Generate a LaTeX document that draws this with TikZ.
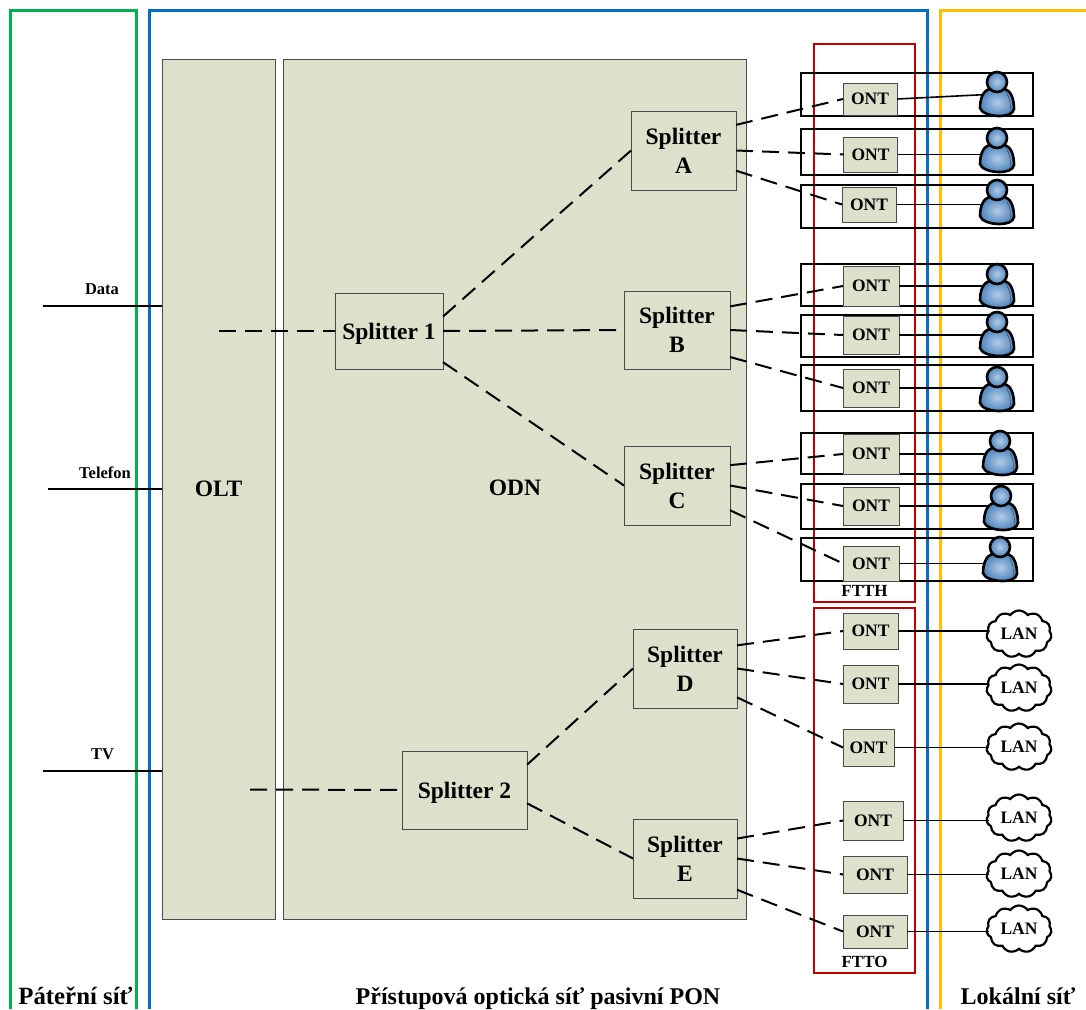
\documentclass[tikz,border=0pt]{standalone}
\usepackage{xcolor}
\usepackage{fontspec}
\setmainfont{Liberation Serif}
\usepackage{tikz}
\usetikzlibrary{shapes.symbols}
\definecolor{boxfill}{HTML}{DDE1CB}
\definecolor{boxline}{HTML}{4A4A4A}
\definecolor{framegreen}{HTML}{00B050}
\definecolor{frameblue}{HTML}{0070C0}
\definecolor{frameyellow}{HTML}{FFC000}
\definecolor{framered}{HTML}{C00000}
\definecolor{userin}{HTML}{B4CBE6}
\definecolor{userout}{HTML}{4F86BE}
\tikzset{
    panel/.style={draw=boxline, line width=0.8pt, fill=boxfill, outer sep=0pt, inner sep=0pt},
    splitter/.style={panel, align=center, font=\fontsize{23.5}{29}\selectfont\bfseries},
    ont/.style={panel, font=\fontsize{17.5}{20}\selectfont\bfseries},
    rowbox/.style={draw=black, line width=2pt, outer sep=0pt, inner sep=0pt},
    redbox/.style={draw=framered, line width=2pt, outer sep=0pt, inner sep=0pt},
    lan/.style={cloud, cloud puffs=11, cloud puff arc=110, aspect=1.4, draw=black, line width=2.2pt, fill=white, inner sep=0pt, outer sep=0pt, font=\fontsize{17.5}{20}\selectfont\bfseries},
    small/.style={font=\fontsize{16.5}{18}\selectfont\bfseries, inner sep=0pt},
    caption/.style={font=\fontsize{24}{28}\selectfont\bfseries, inner sep=0pt, anchor=base},
    frameline/.style={line width=3pt},
    fibre/.style={line width=2pt, dash pattern=on 17pt off 9pt},
    cable/.style={line width=1.6pt},
    pics/user/.style={code={
        \draw[line width=2.6pt, inner color=userin, outer color=userout] (-8,-5) .. controls (-14,-3) and (-17,5) .. (-17,14) .. controls (-16,19) and (-6,22) .. (2,22) .. controls (10,22) and (16,20) .. (17,15) .. controls (17,5) and (14,-3) .. (8,-5) -- cycle;
        \draw[line width=0.5pt, draw=boxline] (10,0) .. controls (13,5) and (14,10) .. (13,18);
        \draw[line width=2.6pt, inner color=userin, outer color=userout] (0,-12) circle (10);
    }},
}
\begin{document}
\begin{tikzpicture}[x=1pt, y=-1pt]
        \useasboundingbox (0,0) rectangle (1086,1009);
        \draw[framegreen, frameline] (10,1009) -- (10,10) -- (136,10) -- (136,1009);
        \draw[frameblue, frameline] (149,1009) -- (149,10) -- (927,10) -- (927,1009);
        \draw[frameyellow, frameline] (940,1009) -- (940,10) -- (1086,10);

        \node[redbox, minimum width=101, minimum height=558] (ftth) at (864.5,323) {};
        \node[redbox, minimum width=101, minimum height=365] (ftto) at (864.5,790.5) {};
        \node[small, font=\fontsize{17}{20}\selectfont\bfseries] (ftthlabel) at (864.5,591) {FTTH};
        \node[small, font=\fontsize{17}{20}\selectfont\bfseries] (fttolabel) at (864.5,962) {FTTO};

        \node[panel, minimum width=113, minimum height=860, font=\fontsize{23.5}{28}\selectfont\bfseries] (olt) at (218.5,489) {OLT};
        \node[panel, minimum width=463, minimum height=860, font=\fontsize{23.5}{28}\selectfont\bfseries] (odn) at (514.5,489) {};
        \node[font=\fontsize{23.5}{28}\selectfont\bfseries, inner sep=0pt] (odnlabel) at (515,488) {ODN};

        \node[splitter, text depth=0pt, minimum width=108, minimum height=76] (s1) at (389,331) {Splitter 1};
        \node[splitter, text depth=0pt, minimum width=125, minimum height=78] (s2) at (464.5,790) {Splitter 2};
        \node[splitter, minimum width=105, minimum height=79] (sa) at (683.5,150.5) {Splitter\\A};
        \node[splitter, minimum width=106, minimum height=78] (sb) at (677,330) {Splitter\\B};
        \node[splitter, minimum width=106, minimum height=79] (sc) at (677,485.5) {Splitter\\C};
        \node[splitter, minimum width=104, minimum height=79] (sd) at (685,668.5) {Splitter\\D};
        \node[splitter, minimum width=104, minimum height=79] (se) at (685,858.5) {Splitter\\E};

        \node[rowbox, minimum width=232, minimum height=43] (row1) at (917,94.5) {};
        \node[rowbox, minimum width=232, minimum height=46] (row2) at (917,152) {};
        \node[rowbox, minimum width=232, minimum height=43] (row3) at (917,206.5) {};
        \node[rowbox, minimum width=232, minimum height=42] (row4) at (917,285) {};
        \node[rowbox, minimum width=232, minimum height=42] (row5) at (917,336) {};
        \node[rowbox, minimum width=232, minimum height=46] (row6) at (917,388) {};
        \node[rowbox, minimum width=232, minimum height=41] (row7) at (917,453.5) {};
        \node[rowbox, minimum width=232, minimum height=45] (row8) at (917,506.5) {};
        \node[rowbox, minimum width=232, minimum height=43] (row9) at (917,559.5) {};

        \node[ont, minimum width=54, minimum height=32] (o1) at (870,99) {ONT};
        \node[ont, minimum width=54, minimum height=35] (o2) at (870.5,154.5) {ONT};
        \node[ont, minimum width=54, minimum height=35] (o3) at (869,204.5) {ONT};
        \node[ont, minimum width=56, minimum height=40] (o4) at (871,286) {ONT};
        \node[ont, minimum width=56, minimum height=38] (o5) at (871,335) {ONT};
        \node[ont, minimum width=56, minimum height=38] (o6) at (871,388) {ONT};
        \node[ont, minimum width=56, minimum height=40] (o7) at (871,454) {ONT};
        \node[ont, minimum width=56, minimum height=38] (o8) at (871,506) {ONT};
        \node[ont, minimum width=56, minimum height=35] (o9) at (871,563.5) {ONT};
        \node[ont, minimum width=55, minimum height=36] (o10) at (870.5,631) {ONT};
        \node[ont, minimum width=55, minimum height=38] (o11) at (870.5,684) {ONT};
        \node[ont, minimum width=51, minimum height=37] (o12) at (868.5,747.5) {ONT};
        \node[ont, minimum width=60, minimum height=39] (o13) at (873,820.5) {ONT};
        \node[ont, minimum width=64, minimum height=37] (o14) at (875,874.5) {ONT};
        \node[ont, minimum width=64, minimum height=33] (o15) at (875,931.5) {ONT};

        \coordinate (u1) at (997,94);
        \coordinate (u2) at (997,150);
        \coordinate (u3) at (997,202);
        \coordinate (u4) at (997,286);
        \coordinate (u5) at (997,334);
        \coordinate (u6) at (997,389);
        \coordinate (u7) at (1000,453);
        \coordinate (u8) at (1001,508);
        \coordinate (u9) at (1000,559);

        \node[lan, minimum width=65, minimum height=47] (l1) at (1019,634) {LAN};
        \node[lan, minimum width=65, minimum height=47] (l2) at (1019,688) {LAN};
        \node[lan, minimum width=65, minimum height=47] (l3) at (1019,747) {LAN};
        \node[lan, minimum width=65, minimum height=47] (l4) at (1019,818) {LAN};
        \node[lan, minimum width=65, minimum height=47] (l5) at (1019,874) {LAN};
        \node[lan, minimum width=65, minimum height=47] (l6) at (1019,929) {LAN};

        \coordinate (oltup) at (219,331);
        \coordinate (oltdown) at (250,789.5);
        \coordinate (dataend) at (43,306);
        \coordinate (telend) at (48,489);
        \coordinate (tvend) at (43,771);

        \draw[fibre] (oltup) -- (s1.west);
        \draw[fibre] (oltdown) -- (s2.west);
        \draw[fibre] (s1.15.5) -- (sa.west);
        \draw[fibre] (s1.east) -- (sb.west);
        \draw[fibre] (s1.-30) -- (sc.west);
        \draw[fibre] (s2.22.6) -- (sd.west);
        \draw[fibre] (s2.-12.6) -- (se.west);
        \draw[fibre] (sa.26.8) -- (o1.west);
        \draw[fibre] (sa.east) -- (o2.west);
        \draw[fibre] (sa.-21.3) -- (o3.west);
        \draw[fibre] (sb.24.4) -- (o4.west);
        \draw[fibre] (sb.east) -- (o5.west);
        \draw[fibre] (sb.-27) -- (o6.west);
        \draw[fibre] (sc.21) -- (o7.west);
        \draw[fibre] (sc.east) -- (o8.west);
        \draw[fibre] (sc.-25.7) -- (o9.west);
        \draw[fibre] (sd.24) -- (o10.west);
        \draw[fibre] (sd.east) -- (o11.west);
        \draw[fibre] (sd.-29.6) -- (o12.west);
        \draw[fibre] (se.21.5) -- (o13.west);
        \draw[fibre] (se.east) -- (o14.west);
        \draw[fibre] (se.-31) -- (o15.west);

        \draw[cable] (o1.east) -- (u1);
        \draw[cable] (o2.east) -- (o2.east -| u2);
        \draw[cable] (o3.east) -- (o3.east -| u3);
        \draw[cable] (o4.east) -- (o4.east -| u4);
        \draw[cable] (o5.east) -- (o5.east -| u5);
        \draw[cable] (o6.east) -- (o6.east -| u6);
        \draw[cable] (o7.east) -- (o7.east -| u7);
        \draw[cable] (o8.east) -- (o8.east -| u8);
        \draw[cable] (o9.east) -- (o9.east -| u9);
        \draw[cable] (o10.east) -- ([xshift=2pt]o10.east -| l1.west);
        \draw[cable] (o11.east) -- ([xshift=2pt]o11.east -| l2.west);
        \draw[cable] (o12.east) -- ([xshift=2pt]o12.east -| l3.west);
        \draw[cable] (o13.east) -- ([xshift=2pt]o13.east -| l4.west);
        \draw[cable] (o14.east) -- ([xshift=2pt]o14.east -| l5.west);
        \draw[cable] (o15.east) -- ([xshift=2pt]o15.east -| l6.west);

        \pic at (u1) {user};
        \pic at (u2) {user};
        \pic at (u3) {user};
        \pic at (u4) {user};
        \pic at (u5) {user};
        \pic at (u6) {user};
        \pic at (u7) {user};
        \pic at (u8) {user};
        \pic at (u9) {user};

        \draw[cable] (dataend) -- (dataend -| olt.west);
        \draw[cable] (telend) -- (telend -| olt.west);
        \draw[cable] (tvend) -- (tvend -| olt.west);
        \node[small] (data) at (102,289) {Data};
        \node[small] (tel) at (105,473) {Telefon};
        \node[small] (tv) at (102.5,754) {TV};

        \node[caption, font=\fontsize{24.8}{28}\selectfont\bfseries] (backbone) at (75.5,1004.5) {Páteřní síť};
        \node[caption] (access) at (538,1004.5) {Přístupová optická síť pasivní PON};
        \node[caption] (local) at (1018,1004.5) {Lokální síť};
    \end{tikzpicture}
\end{document}
